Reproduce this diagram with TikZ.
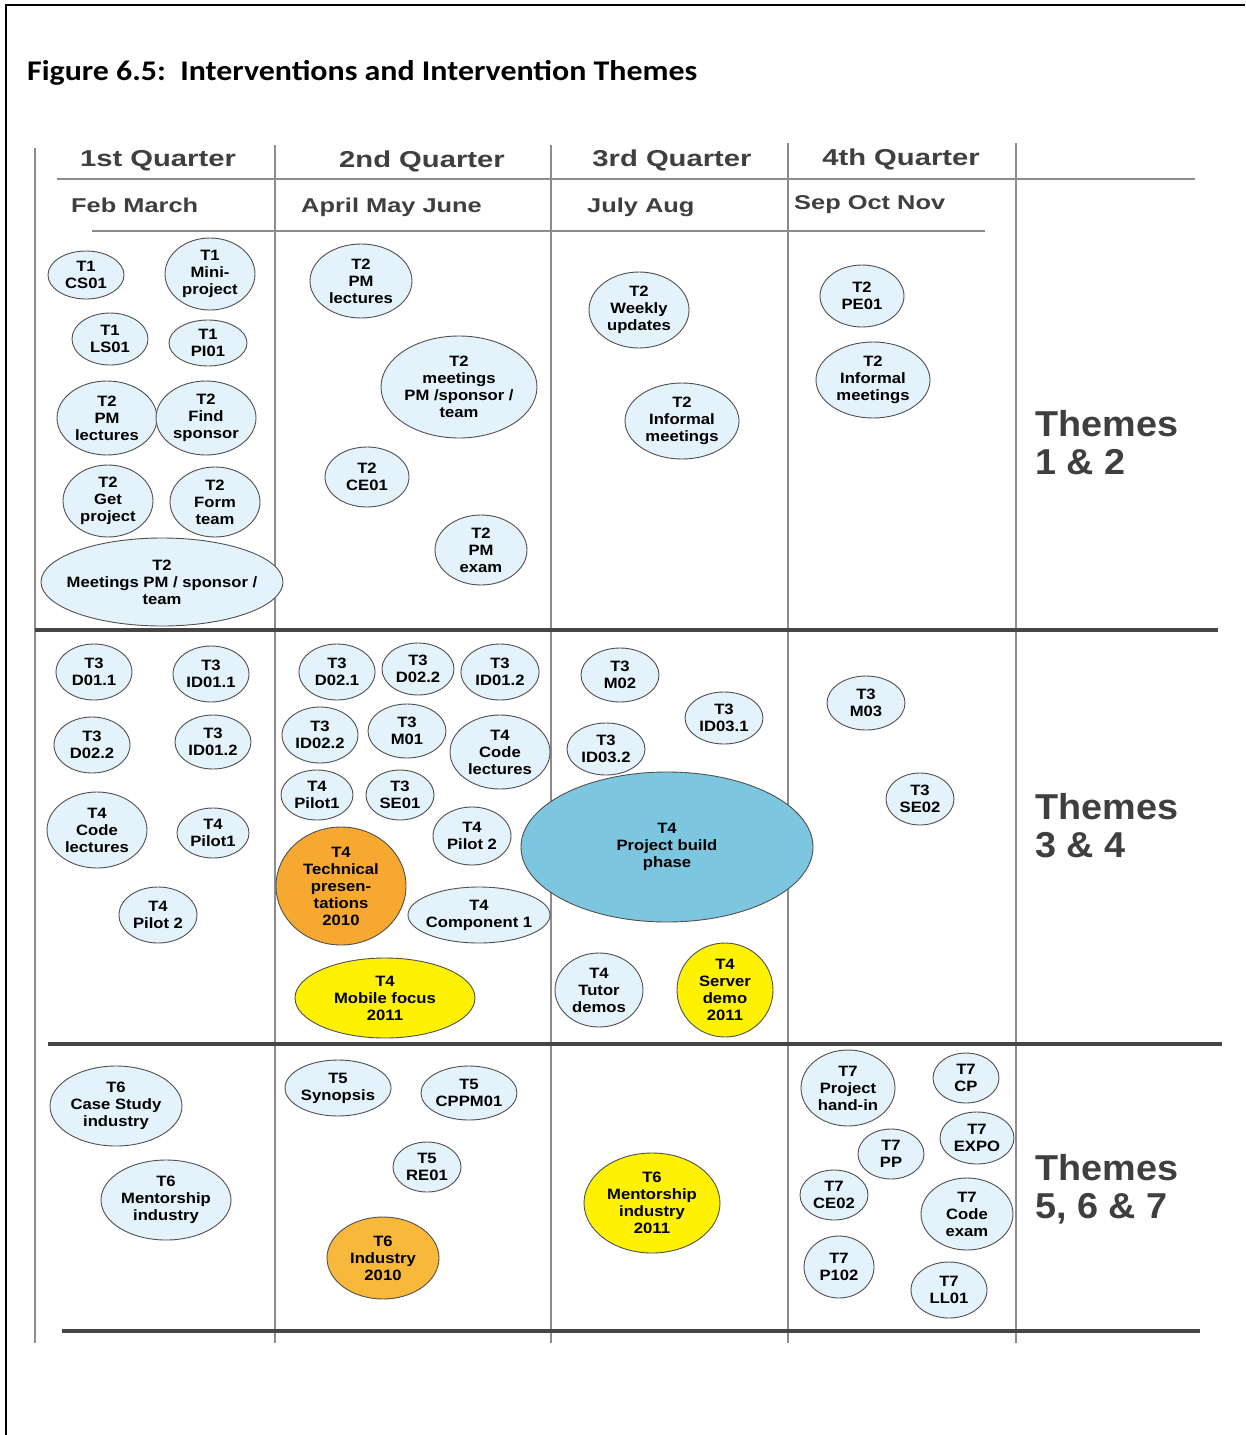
\documentclass[tikz,border=0pt]{standalone}
\usepackage{fontspec}
\setmainfont{Liberation Sans}
\newfontfamily\titlefont[FakeStretch=1.12]{Carlito}
\newfontfamily\lblfont[FakeStretch=1.11]{Liberation Sans}
\newfontfamily\hdfont[FakeStretch=1.27]{Liberation Sans}
\newfontfamily\thfont[FakeStretch=1.05]{Liberation Sans}
\usetikzlibrary{shapes.geometric}

\definecolor{bubfill}{HTML}{E3F2FB}
\definecolor{bubedge}{HTML}{505050}
\definecolor{buildblue}{HTML}{7CC6DF}
\definecolor{hiorange}{HTML}{F6A831}
\definecolor{hiorangeb}{HTML}{F8B83A}
\definecolor{hiyellow}{HTML}{FFF200}
\definecolor{gridgray}{HTML}{8C8C8C}
\definecolor{rulegray}{HTML}{454545}
\definecolor{headgray}{HTML}{3F3F3F}

% an intervention: ellipse plus its centred label
% #1 name, #2 extra style, #3 x, #4 y, #5 x-radius, #6 y-radius, #7 text
\newcommand\ivnode[7]{%
  \node[bub,#2,minimum width=2*#5,minimum height=2*#6] (#1) at (#3,#4) {};
  \node[lbl] (#1-t) at (#1.center) {#7};}

\begin{document}
\begin{tikzpicture}[x=1pt,y=-1pt,
  bub/.style={ellipse,draw=bubedge,line width=0.9pt,fill=bubfill,inner sep=0pt},
  build/.style={fill=buildblue},
  orng/.style={fill=hiorange},
  orngb/.style={fill=hiorangeb},
  yel/.style={fill=hiyellow},
  lbl/.style={align=center,font=\lblfont\bfseries\fontsize{15}{17}\selectfont,inner sep=0pt},
  grid/.style={draw=gridgray,line width=1.1pt},
  band/.style={draw=rulegray,line width=3.4pt},
  quarter/.style={anchor=base,text=headgray,font=\hdfont\bfseries\fontsize{23}{26}\selectfont,inner sep=0pt},
  month/.style={anchor=base west,text=headgray,font=\hdfont\bfseries\fontsize{20}{24}\selectfont,inner sep=0pt},
  themes/.style={anchor=north west,align=left,text=headgray,
    font=\thfont\bfseries\fontsize{36}{38}\selectfont,inner sep=0pt}]

\useasboundingbox (0,0) rectangle (1245,1435);
\fill[white] (0,0) rectangle (1245,1435);

% page frame
\coordinate (fTL) at (6,5);
\coordinate (fTR) at (1245,5);
\coordinate (fBL) at (6,1435);
\draw[line width=2.6pt] (fTR) -- (fTL) -- (fBL);

% title
\node[anchor=base west,inner sep=0pt,font=\titlefont\bfseries\fontsize{28.5}{32}\selectfont]
  (title) at (27,80) {Figure 6.5:\ \ Interventions and Intervention Themes};

% column rules
\foreach \x/\t in {35/148,275/145,551/145,788/143,1016/143}
  \draw[grid] (\x,\t) -- (\x,1343);
\draw[grid] (57,179) -- (1195,179);
\draw[grid] (92,231) -- (985,231);

% band separators
\draw[band] (35,630) -- (1218,630);
\draw[band] (48,1044) -- (1222,1044);
\draw[band] (62,1331) -- (1200,1331);

% column headings
\node[quarter] (q1) at (158,166) {1st Quarter};
\node[quarter] (q2) at (422,167) {2nd Quarter};
\node[quarter] (q3) at (672,166) {3rd Quarter};
\node[quarter] (q4) at (901,165) {4th Quarter};
\node[month] (m1) at (71,212) {Feb March};
\node[month] (m2) at (301,212) {April May June};
\node[month] (m3) at (587,212) {July Aug};
\node[month] (m4) at (794,209) {Sep Oct Nov};

% theme labels
\node[themes] (th12) at (1035,410) {Themes\\1 \& 2};
\node[themes] (th34) at (1035,793) {Themes\\3 \& 4};
\node[themes] (th567) at (1035,1154) {Themes\\5, 6 \& 7};

% ---- Themes 1 & 2 ----
\ivnode{cs01}{}{86}{275}{38}{24}{T1\\CS01}
\ivnode{mini}{}{210}{274}{45}{36}{T1\\Mini-\\project}
\ivnode{ls01}{}{110}{339}{38}{26}{T1\\LS01}
\ivnode{pi01}{}{208}{343}{39}{23}{T1\\PI01}
\ivnode{pmlecA}{}{107}{418}{50}{37}{T2\\PM\\lectures}
\ivnode{sponsor}{}{206}{418}{50}{37}{T2\\Find\\sponsor}
\ivnode{getproj}{}{108}{501}{45}{36}{T2\\Get\\project}
\ivnode{formteam}{}{215}{502}{45}{35}{T2\\Form\\team}
\ivnode{meetA}{}{162}{582}{121}{44}{T2\\Meetings PM / sponsor /\\team}
\ivnode{pmlecB}{}{361}{281}{51}{37}{T2\\PM\\lectures}
\ivnode{meetB}{}{459}{387}{78}{51}{T2\\meetings\\PM /sponsor /\\team}
\ivnode{ce01}{}{367}{477}{42}{30}{T2\\CE01}
\ivnode{pmexam}{}{481}{550}{46}{35}{T2\\PM\\exam}
\ivnode{weekly}{}{639}{310}{50}{38}{T2\\Weekly\\updates}
\ivnode{infA}{}{682}{421}{57}{38}{T2\\Informal\\meetings}
\ivnode{pe01}{}{862}{296}{42}{31}{T2\\PE01}
\ivnode{infB}{}{873}{380}{57}{38}{T2\\Informal\\meetings}

% ---- Themes 3 & 4 ----
\ivnode{d011}{}{94}{672}{38}{28}{T3\\D01.1}
\ivnode{id011}{}{211}{674}{38}{28}{T3\\ID01.1}
\ivnode{d022A}{}{92}{745}{38}{28}{T3\\D02.2}
\ivnode{id012A}{}{213}{742}{38}{27}{T3\\ID01.2}
\ivnode{codeA}{}{97}{830}{50}{38}{T4\\Code\\lectures}
\ivnode{pilot1A}{}{213}{833}{36}{25}{T4\\Pilot1}
\ivnode{pilot2A}{}{158}{915}{39}{28}{T4\\Pilot 2}
\ivnode{d021}{}{337}{672}{38}{28}{T3\\D02.1}
\ivnode{d022B}{}{418}{669}{36}{26}{T3\\D02.2}
\ivnode{id012B}{}{500}{672}{39}{28}{T3\\ID01.2}
\ivnode{id022}{}{320}{735}{38}{28}{T3\\ID02.2}
\ivnode{m01}{}{407}{731}{39}{27}{T3\\M01}
\ivnode{codeB}{}{500}{752}{50}{37}{T4\\Code\\lectures}
\ivnode{pilot1B}{}{317}{795}{36}{25}{T4\\Pilot1}
\ivnode{se01}{}{400}{795}{34}{25}{T3\\SE01}
\ivnode{pilot2B}{}{472}{836}{39}{29}{T4\\Pilot 2}
\ivnode{techpres}{orng}{341}{886}{65}{59}{T4\\Technical\\presen-\\tations\\2010}
\ivnode{comp1}{}{479}{915}{71}{28}{T4\\Component 1}
\ivnode{mobile}{yel}{385}{998}{90}{40}{T4\\Mobile focus\\2011}
\ivnode{m02}{}{620}{675}{39}{27}{T3\\M02}
\ivnode{id031}{}{724}{718}{39}{26}{T3\\ID03.1}
\ivnode{id032}{}{606}{749}{39}{26}{T3\\ID03.2}
\ivnode{build}{build}{667}{847}{146}{75}{T4\\Project build\\phase}
\ivnode{tutor}{}{599}{990}{44}{37}{T4\\Tutor\\demos}
\ivnode{server}{yel}{725}{990}{48}{47}{T4\\Server\\demo\\2011}
\ivnode{m03}{}{866}{703}{39}{27}{T3\\M03}
\ivnode{se02}{}{920}{799}{34}{26}{T3\\SE02}

% ---- Themes 5, 6 & 7 ----
\ivnode{casestudy}{}{116}{1106}{66}{40}{T6\\Case Study\\industry}
\ivnode{mentorA}{}{166}{1200}{65}{40}{T6\\Mentorship\\industry}
\ivnode{synopsis}{}{338}{1088}{53}{28}{T5\\Synopsis}
\ivnode{cppm01}{}{469}{1093}{48}{27}{T5\\CPPM01}
\ivnode{re01}{}{427}{1167}{34}{25}{T5\\RE01}
\ivnode{industry}{orngb}{383}{1258}{56}{41}{T6\\Industry\\2010}
\ivnode{mentorB}{yel}{652}{1203}{68}{50}{T6\\Mentorship\\industry\\2011}
\ivnode{handin}{}{848}{1088}{47}{38}{T7\\Project\\hand-in}
\ivnode{cp}{}{966}{1078}{33}{25}{T7\\CP}
\ivnode{expo}{}{977}{1138}{37}{26}{T7\\EXPO}
\ivnode{pp}{}{891}{1154}{33}{25}{T7\\PP}
\ivnode{ce02}{}{834}{1195}{34}{25}{T7\\CE02}
\ivnode{codeexam}{}{967}{1214}{46}{36}{T7\\Code\\exam}
\ivnode{p102}{}{839}{1267}{35}{31}{T7\\P102}
\ivnode{ll01}{}{949}{1290}{38}{28}{T7\\LL01}

\end{tikzpicture}
\end{document}
